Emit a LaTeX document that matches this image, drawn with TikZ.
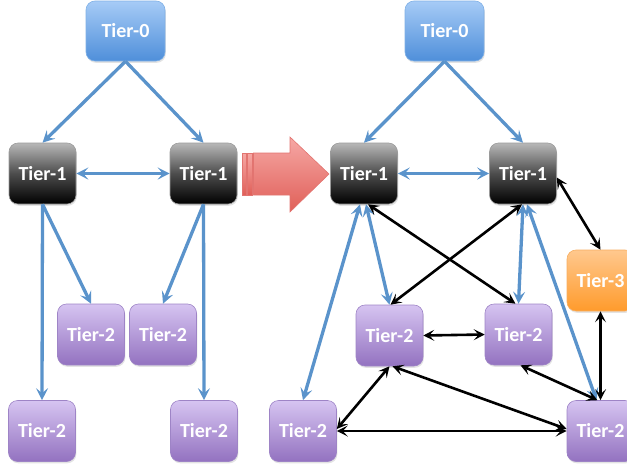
\documentclass[tikz,border=0pt]{standalone}
\usepackage{fontspec}
\setmainfont{Carlito}
\usetikzlibrary{arrows.meta,shadows}
\definecolor{bluetop}{HTML}{A6CBF6}
\definecolor{bluebot}{HTML}{4F8FDA}
\definecolor{blueedge}{HTML}{7FB0E6}
\definecolor{graytop}{HTML}{B8B8B8}
\definecolor{grayedge}{HTML}{9A9A9A}
\definecolor{purtop}{HTML}{D6C4F1}
\definecolor{purbot}{HTML}{9372C0}
\definecolor{puredge}{HTML}{9E84C6}
\definecolor{ortop}{HTML}{FFC88E}
\definecolor{orbot}{HTML}{FF9B2C}
\definecolor{oredge}{HTML}{F7AE60}
\definecolor{blueline}{HTML}{5A93CB}
\definecolor{redtop}{HTML}{F6A8A5}
\definecolor{redbot}{HTML}{E05F58}
\definecolor{rededge}{HTML}{E27470}
\begin{document}
\begin{tikzpicture}[x=1pt,y=-1pt,
  box/.style={rounded corners=9pt, minimum width=67pt, minimum height=61pt,
    inner sep=0pt, text=white, line width=0.6pt,
    font=\fontsize{20}{22}\selectfont\bfseries,
    drop shadow={opacity=0.22,shadow xshift=0.8pt,shadow yshift=-1.8pt}},
  tzero/.style={box, minimum width=79pt, minimum height=60pt, top color=bluetop, bottom color=bluebot, draw=blueedge},
  tone/.style={box, top color=graytop, bottom color=black, middle color=black!70, draw=grayedge},
  ttwo/.style={box, top color=purtop, bottom color=purbot, draw=puredge},
  tthree/.style={box, top color=ortop, bottom color=orbot, draw=oredge},
  bluearr/.style={line width=3.3pt, draw=blueline, -{Stealth[length=12pt,width=12pt,inset=5pt]}},
  bluedbl/.style={line width=3.3pt, draw=blueline, {Stealth[length=12pt,width=12pt,inset=5pt]}-{Stealth[length=12pt,width=12pt,inset=5pt]}},
  blackdbl/.style={line width=2.6pt, draw=black, {Stealth[length=11pt,width=11pt,inset=5pt]}-{Stealth[length=11pt,width=11pt,inset=5pt]}},
  bigarrow/.style={top color=redtop, bottom color=redbot, draw=rededge, line width=0.6pt}
]
\useasboundingbox (0,0) rectangle (627,469);
\clip (0,0) rectangle (627,469);

% left diagram
\node[tzero] (t0a) at (125.5,31) {Tier-0};
\node[tone] (t1a) at (42.5,173.5) {Tier-1};
\node[tone] (t1b) at (203.5,173.5) {Tier-1};
\node[ttwo] (t2a) at (91,334.5) {Tier-2};
\node[ttwo] (t2b) at (163,334.5) {Tier-2};
\node[ttwo] (t2c) at (42,431) {Tier-2};
\node[ttwo] (t2d) at (204,431) {Tier-2};

\draw[bluearr] (t0a.south) -- (t1a.north);
\draw[bluearr] (t0a.south) -- (t1b.north);
\draw[bluedbl] (t1a.east) -- (t1b.west);
\draw[bluearr] (t1a.south) -- (t2c.north);
\draw[bluearr] (t1a.south) -- (t2a.north);
\draw[bluearr] (t1b.south) -- (t2b.north);
\draw[bluearr] (t1b.south) -- (t2d.north);

% big red arrow
\path[bigarrow] (242,153) rectangle (246,195);
\path[bigarrow] (247.5,153) rectangle (252,195);
\path[bigarrow] (253.5,153) -- (290,153) -- (290,137) -- (329,174) -- (290,212) -- (290,195) -- (253.5,195) -- cycle;

% right diagram
\node[tzero] (t0b) at (444.5,31) {Tier-0};
\node[tone] (t1c) at (364,173.5) {Tier-1};
\node[tone] (t1d) at (523,173.5) {Tier-1};
\node[tthree] (t3) at (600.5,280.5) {Tier-3};
\node[ttwo] (t2f) at (389.5,335.5) {Tier-2};
\node[ttwo] (t2g) at (518.5,334.5) {Tier-2};
\node[ttwo] (t2e) at (303,431) {Tier-2};
\node[ttwo] (t2h) at (600.5,431) {Tier-2};

\draw[bluearr] (t0b.south) -- (t1c.north);
\draw[bluearr] (t0b.south) -- (t1d.north);
\draw[bluedbl] (t1c.east) -- (t1d.west);
\draw[bluedbl] ([xshift=-4pt]t1c.south) -- (t2e.north);
\draw[bluedbl] ([xshift=2pt]t1c.south) -- (t2f.north);
\draw[bluedbl] (t1d.south) -- (t2g.north);
\draw[bluedbl] ([xshift=4pt]t1d.south) -- ([xshift=-4pt]t2h.north);

\draw[blackdbl] ([xshift=4pt]t1c.south) -- ([xshift=-3pt]t2g.north);
\draw[blackdbl] ([xshift=-1pt]t1d.south) -- ([xshift=1pt]t2f.north);
\draw[blackdbl] ([yshift=-4pt]t1d.east) -- (t3.north);
\draw[blackdbl] (t3.south) -- (t2h.north);
\draw[blackdbl] (t2f.east) -- (t2g.west);
\draw[blackdbl] (t2f.south) -- ([yshift=2pt]t2e.east);
\draw[blackdbl] ([xshift=3pt]t2f.south) -- ([yshift=2pt]t2h.west);
\draw[blackdbl] (t2e.east) -- (t2h.west);
\draw[blackdbl] ([xshift=2pt]t2g.south) -- ([xshift=-3pt]t2h.north);
\end{tikzpicture}
\end{document}
